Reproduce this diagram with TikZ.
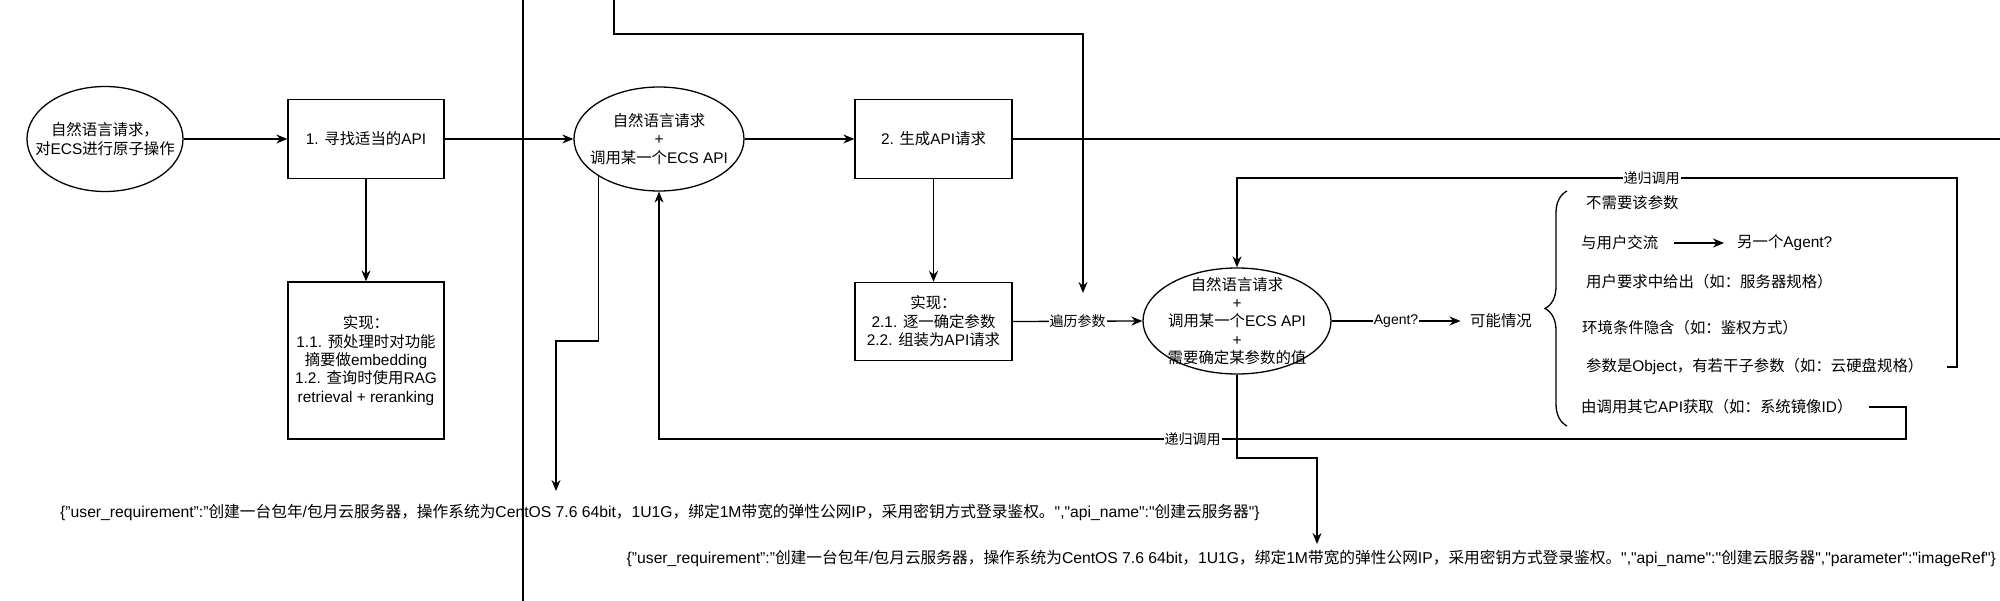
\documentclass[tikz,border=0pt]{standalone}
\usepackage{fontspec}
\setmainfont{Liberation Sans}
\newfontfamily\cjkf{Noto Sans CJK SC}
\newfontfamily\latf{Liberation Sans}
\usetikzlibrary{arrows.meta,shapes.geometric,decorations.pathreplacing}
\newXeTeXintercharclass\cjkcls
\makeatletter
\def\setcjkrange#1#2{\count@=#1\relax\loop\XeTeXcharclass\count@=\cjkcls\relax\advance\count@ by 1\relax\ifnum\count@<#2 \repeat}
\setcjkrange{"3000}{"3040}
\setcjkrange{"4E00}{"A000}
\setcjkrange{"FF00}{"FFF0}
\makeatother
\XeTeXinterchartoks 0 \cjkcls = {\cjkf}
\XeTeXinterchartoks 4095 \cjkcls = {\cjkf}
\XeTeXinterchartoks \cjkcls 0 = {\latf}
\XeTeXinterchartokenstate=1
\begin{document}
\begin{tikzpicture}[x=1pt,y=-1pt,
  base/.style={font=\fontsize{15.4}{18.4}\selectfont},
  box/.style={base, draw, line width=1.3pt, inner sep=0pt, align=center},
  ell/.style={draw, ellipse, line width=1.3pt, inner sep=0pt},
  txt/.style={base, align=center, inner sep=0pt},
  item/.style={base, anchor=west, inner sep=0pt},
  json/.style={font=\fontsize{15.7}{18.8}\selectfont, anchor=west, inner sep=0pt},
  lbl/.style={font=\fontsize{14}{16.8}\selectfont, fill=white, inner sep=1pt},
  ln/.style={line width=1.3pt},
  arr/.style={line width=1.3pt, -{Stealth[length=11pt,width=9pt]}}]
\useasboundingbox (0,0) rectangle (2000,601);
% divider
\draw[ln] (523,-2) -- (523,603);
% nodes
\node[ell, minimum width=156pt, minimum height=105pt] (e1) at (105,139) {};
\node[txt] (e1t) at (e1) {自然语言请求，\\对ECS进行原子操作};
\node[box, minimum width=156pt, minimum height=79pt] (b1) at (366,139) {1. 寻找适当的API};
\node[box, minimum width=156pt, minimum height=157pt] (i1) at (366,360.5) {实现：\\1.1. 预处理时对功能\\摘要做embedding\\1.2. 查询时使用RAG\\retrieval + reranking};
\node[ell, minimum width=170pt, minimum height=104pt] (e2) at (659,139) {};
\node[txt] (e2t) at (e2) {自然语言请求\\+\\调用某一个ECS API};
\node[box, minimum width=157pt, minimum height=79pt] (b2) at (933.5,139) {2. 生成API请求};
\node[box, minimum width=157pt, minimum height=78pt] (i2) at (933.5,321.5) {实现：\\2.1. 逐一确定参数\\2.2. 组装为API请求};
\node[ell, minimum width=188pt, minimum height=106pt] (e3) at (1237,321) {};
\node[txt] (e3t) at (e3) {自然语言请求\\+\\调用某一个ECS API\\+\\需要确定某参数的值};
\node[txt, inner xsep=9.5pt] (pk) at (1501,321) {可能情况};
% list of cases
\node[item] (o1) at (1586,203) {不需要该参数};
\node[item] (o2) at (1581,243) {与用户交流};
\node[item] (o2b) at (1737,243) {另一个Agent?};
\node[item] (o3) at (1586,282) {用户要求中给出（如：服务器规格）};
\node[item] (o4) at (1582,328) {环境条件隐含（如：鉴权方式）};
\node[item] (o5) at (1586,367) {参数是Object，有若干子参数（如：云硬盘规格）};
\node[item] (o6) at (1581,407) {由调用其它API获取（如：系统镜像ID）};
\draw[ln, decorate, decoration={brace, amplitude=22pt}] (1567,426) -- (1567,191);
% json texts
\node[json] (j1) at (60,512) {\{"user\_requirement":"创建一台包年/包月云服务器，操作系统为CentOS 7.6 64bit，1U1G，绑定1M带宽的弹性公网IP，采用密钥方式登录鉴权。","api\_name":"创建云服务器"\}};
\node[json] (j2) at (626.5,558) {\{"user\_requirement":"创建一台包年/包月云服务器，操作系统为CentOS 7.6 64bit，1U1G，绑定1M带宽的弹性公网IP，采用密钥方式登录鉴权。","api\_name":"创建云服务器","parameter":"imageRef"\}};
% coordinates
\coordinate (xr) at (2011,139);
\coordinate (top) at (614,-5);
\coordinate (tend) at (1083,293);
\coordinate (r1) at (1947,367);
\coordinate (r2) at (1869,407);
\coordinate (a1) at (556,491);
\coordinate (a2) at (1317,544);
% connectors
\draw[arr] (e1.east) -- (b1.west);
\draw[arr] (b1.east) -- (e2.west);
\draw[arr] (e2.east) -- (b2.west);
\draw[arr] (b1.south) -- (i1.north);
\draw[arr] (b2.south) -- (i2.north);
\draw[arr] (b2.east) -- (xr);
\draw[arr] (top) |- (1083,34) -- (tend);
\draw[arr] (i2.east) -- node[lbl]{遍历参数} (e3.west);
\draw[arr] (e3.east) -- node[lbl]{Agent?} (pk.west);
\draw[arr] ([xshift=15.5pt]o2.east) -- ([xshift=-13pt]o2b.west);
\draw[arr] (r1) -- (1957,367) -- (1957,178) -| node[lbl,pos=0.212]{递归调用} (e3.north);
\draw[arr] (r2) -- (1906,407) -- (1906,439) -| node[lbl,pos=0.286]{递归调用} (e2.south);
\draw[arr] (e3.south) |- (1317,458) -- (a2);
\draw[arr] (e2.south west) |- (556,341) -- (a1);
\end{tikzpicture}
\end{document}
